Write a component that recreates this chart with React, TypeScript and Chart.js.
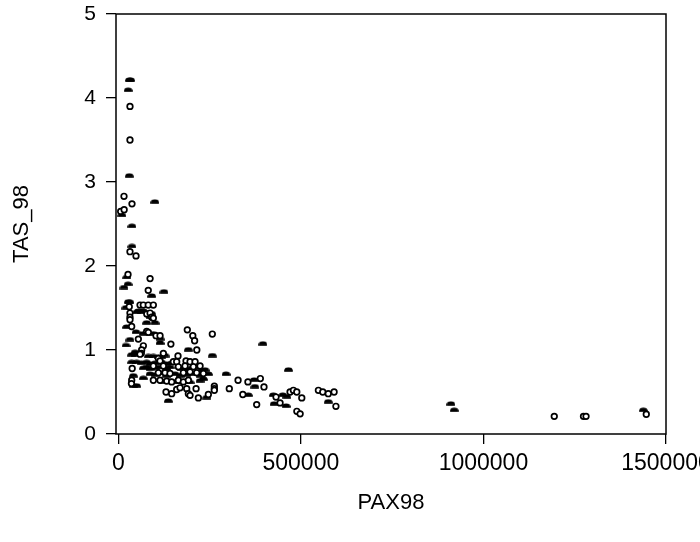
import { useEffect, useRef } from "react";
import { Chart, registerables } from "chart.js";

Chart.register(...registerables);

const xTicks = [0, 500000, 1000000, 1500000];
const yTicks = [0, 1, 2, 3, 4, 5];
const xTitle = "PAX98";
const yTitle = "TAS_98";

// hollow circle markers [PAX98, TAS_98]
const openPoints: [number, number][] = [
  [32000, 3.9], [32000, 3.5], [15600, 2.83], [37500, 2.74], [6500, 2.65], [16000, 2.67],
  [32000, 2.17], [48500, 2.12], [26600, 1.9], [87000, 1.85], [82000, 1.71],
  [59500, 1.535], [68500, 1.535], [82000, 1.535], [96000, 1.535], [30000, 1.515],
  [32000, 1.44], [78000, 1.43], [87000, 1.44], [32000, 1.39], [91500, 1.39],
  [96000, 1.38], [32000, 1.36], [36600, 1.28], [77700, 1.22], [82300, 1.21],
  [103300, 1.17], [114300, 1.17], [189000, 1.24], [204000, 1.17], [209000, 1.11],
  [257500, 1.19], [54900, 1.13], [68600, 1.05], [144000, 1.07], [64000, 1.0],
  [63000, 0.96], [215000, 1.0], [59500, 0.95], [123400, 0.96], [109700, 0.9],
  [163500, 0.93], [114300, 0.87], [150800, 0.86], [159900, 0.86], [185500, 0.87],
  [196500, 0.86], [210200, 0.86], [96000, 0.81], [123400, 0.81], [164500, 0.8],
  [182800, 0.81], [205600, 0.8], [223900, 0.81], [109700, 0.73], [128000, 0.73],
  [141700, 0.72], [178200, 0.73], [196500, 0.74], [214700, 0.73], [233000, 0.72],
  [96000, 0.64], [114300, 0.64], [132500, 0.63], [146200, 0.62], [164500, 0.64],
  [178200, 0.62], [191900, 0.64], [130700, 0.5], [146200, 0.48], [159900, 0.53],
  [169100, 0.55], [187300, 0.54], [191900, 0.48], [196500, 0.46], [213000, 0.54],
  [219300, 0.43], [36700, 0.64], [38000, 0.78], [36000, 0.6], [328000, 0.64],
  [355000, 0.62], [389000, 0.66], [399000, 0.56], [304000, 0.54], [263000, 0.57],
  [263000, 0.54], [263000, 0.52], [246600, 0.47], [341000, 0.47], [379000, 0.35],
  [443000, 0.37], [432000, 0.44], [470400, 0.5], [479500, 0.52], [488800, 0.5],
  [502500, 0.43], [489000, 0.27], [498000, 0.24], [548000, 0.52], [560000, 0.5],
  [575000, 0.48], [591000, 0.5], [596000, 0.33], [1194000, 0.21], [1274000, 0.21],
  [1281000, 0.21], [1446000, 0.235],
];

// filled dome markers [PAX98, TAS_98]
const solidPoints: [number, number][] = [
  [30000, 4.22], [34000, 4.22], [27000, 4.1], [30000, 3.08], [100000, 2.77],
  [10000, 2.61], [37500, 2.48], [37500, 2.24], [23000, 1.87], [26600, 1.79],
  [15600, 1.75], [91500, 1.65], [125000, 1.7], [32000, 1.575], [27500, 1.58],
  [21000, 1.51], [50400, 1.455], [64000, 1.455], [54900, 1.47], [68600, 1.47],
  [91400, 1.44], [86900, 1.4], [100600, 1.33], [77700, 1.33], [22900, 1.28],
  [48500, 1.22], [68600, 1.2], [96000, 1.2], [32000, 1.13], [114300, 1.14],
  [114300, 1.09], [21100, 1.06], [45800, 0.98], [191900, 1.01], [396000, 1.08],
  [257500, 0.94], [36600, 0.95], [45800, 0.95], [82300, 0.93], [96000, 0.93],
  [109700, 0.92], [118800, 0.92], [128000, 0.94], [36600, 0.86], [50300, 0.86],
  [64000, 0.85], [77700, 0.86], [86900, 0.84], [100600, 0.85], [118800, 0.86],
  [132500, 0.84], [146200, 0.85], [68600, 0.79], [77700, 0.8], [86900, 0.78],
  [100600, 0.79], [109700, 0.8], [132500, 0.78], [141700, 0.8], [173600, 0.78],
  [191900, 0.77], [201000, 0.79], [214700, 0.8], [228400, 0.76], [237600, 0.77],
  [86900, 0.72], [100600, 0.71], [114300, 0.73], [132500, 0.7], [155400, 0.72],
  [169100, 0.7], [187300, 0.71], [205600, 0.72], [223900, 0.7], [246700, 0.72],
  [123400, 0.63], [137100, 0.64], [155400, 0.62], [173600, 0.63], [196500, 0.62],
  [223900, 0.64], [233000, 0.66], [41200, 0.7], [41200, 0.58], [50300, 0.58],
  [68600, 0.67], [137100, 0.4], [242100, 0.44], [295000, 0.72], [372000, 0.65],
  [374000, 0.57], [356000, 0.47], [466000, 0.77], [424700, 0.47], [450400, 0.47],
  [461400, 0.45], [426600, 0.365], [459500, 0.34], [575000, 0.39], [911000, 0.365],
  [920000, 0.29], [1438000, 0.29],
];

const FONT = '"Liberation Sans", Arial, sans-serif';

function makeDome(): HTMLCanvasElement {
  const c = document.createElement("canvas");
  c.width = 9;
  c.height = 5;
  const ctx = c.getContext("2d")!;
  ctx.fillStyle = "#000";
  ctx.beginPath();
  ctx.ellipse(4.5, 4, 4.3, 3.4, 0, Math.PI, 2 * Math.PI);
  ctx.closePath();
  ctx.fill();
  ctx.fillRect(0.2, 3.5, 8.6, 1.3);
  return c;
}

const boxPlugin = {
  id: "plotBox",
  afterDatasetsDraw(chart: any) {
    const { ctx, chartArea } = chart;
    const { left, top, right, bottom } = chartArea;
    ctx.save();
    ctx.strokeStyle = "#000";
    ctx.lineWidth = 1.5;
    ctx.strokeRect(left, top, right - left, bottom - top);
    ctx.restore();
  },
};

export default function App() {
  const ref = useRef<HTMLCanvasElement | null>(null);

  useEffect(() => {
    document.body.style.margin = "0";
    if (!ref.current) return;
    const dome = makeDome();
    const chart = new Chart(ref.current, {
      type: "scatter",
      data: {
        datasets: [
          {
            label: "open",
            data: openPoints.map(([x, y]) => ({ x, y })),
            pointStyle: "circle",
            pointRadius: 2.8,
            pointBorderWidth: 1.7,
            pointBackgroundColor: "#fff",
            pointBorderColor: "#000",
          },
          {
            label: "solid",
            data: solidPoints.map(([x, y]) => ({ x, y })),
            pointStyle: dome,
            pointRadius: 4,
          },
        ],
      },
      options: {
        animation: false,
        responsive: false,
        events: [],
        layout: { padding: { top: 14, right: 34, left: 0, bottom: 0 } },
        plugins: {
          legend: { display: false },
          tooltip: { enabled: false },
        },
        scales: {
          x: {
            type: "linear",
            min: -6300,
            max: 1500000,
            afterBuildTicks: (s: any) => {
              s.ticks = xTicks.map((v) => ({ value: v }));
            },
            afterFit: (s: any) => {
              s.height = 108;
              s.paddingLeft = 0;
              s.paddingRight = 0;
            },
            ticks: {
              callback: (v: any) => String(v),
              font: { family: FONT, size: 23 },
              color: "#000",
              padding: 6,
              maxRotation: 0,
              autoSkip: false,
            },
            grid: {
              drawOnChartArea: false,
              drawTicks: true,
              tickLength: 10,
              color: "#000",
              lineWidth: 1.3,
            },
            border: { display: false },
            title: {
              display: true,
              text: xTitle,
              color: "#000",
              font: { family: FONT, size: 22 },
              padding: { top: 0, bottom: 26 },
            },
          },
          y: {
            type: "linear",
            min: 0,
            max: 5,
            afterBuildTicks: (s: any) => {
              s.ticks = yTicks.map((v) => ({ value: v }));
            },
            afterFit: (s: any) => {
              s.width = 116;
              s.paddingTop = 0;
              s.paddingBottom = 0;
            },
            ticks: {
              callback: (v: any) => String(v),
              font: { family: FONT, size: 21 },
              color: "#000",
              padding: 10,
              autoSkip: false,
            },
            grid: {
              drawOnChartArea: false,
              drawTicks: true,
              tickLength: 10,
              color: "#000",
              lineWidth: 1.3,
            },
            border: { display: false },
            title: {
              display: true,
              text: yTitle,
              color: "#000",
              font: { family: FONT, size: 22 },
              padding: { top: 9, bottom: 0 },
            },
          },
        },
      },
      plugins: [boxPlugin],
    });
    return () => chart.destroy();
  }, []);

  return (
    <div style={{ position: "absolute", left: 0, top: 0 }}>
      <canvas ref={ref} width={700} height={542} style={{ display: "block" }} />
    </div>
  );
}
